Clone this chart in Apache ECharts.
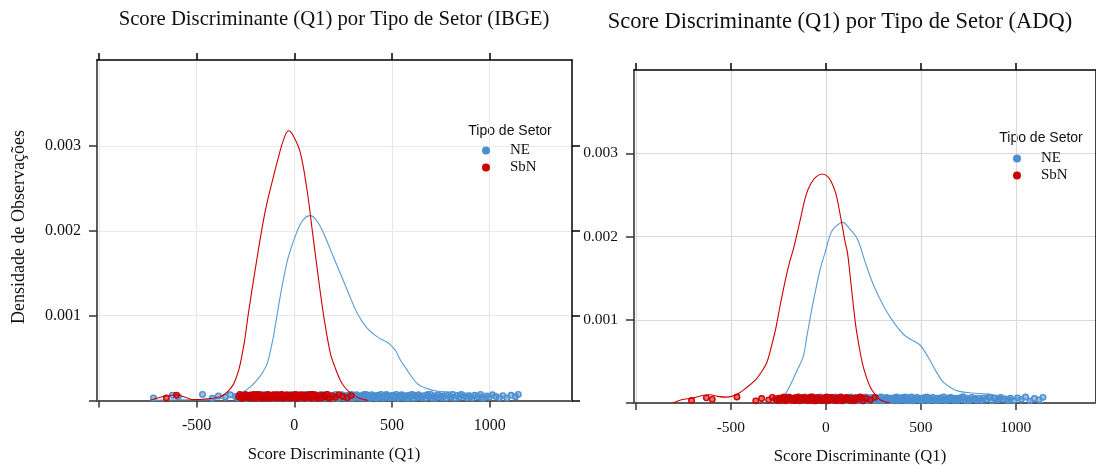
<!DOCTYPE html>
<html>
<head>
<meta charset="utf-8">
<script src="https://cdn.jsdelivr.net/npm/echarts@6/dist/echarts.min.js"></script>
<style>
  html, body { margin: 0; padding: 0; background: #ffffff; }
  #chart { width: 1096px; height: 465px; }
</style>
</head>
<body>
<div id="chart"></div>
<script>
// Kernel density curves: [score, density in units of 0.001]
const neIbgeDensity = [
  [-740, 0.002], [-600, 0.008], [-450, 0.01], [-380, 0.02], [-320, 0.045], [-276, 0.08],
  [-225, 0.16], [-184, 0.26], [-160, 0.34], [-138, 0.44], [-110, 0.72], [-87, 1.03],
  [-60, 1.38], [-30, 1.7], [15, 2.0], [45, 2.13], [82, 2.18], [115, 2.12], [150, 1.97],
  [190, 1.75], [235, 1.5], [280, 1.25], [322, 1.03], [370, 0.86], [425, 0.75], [465, 0.7],
  [491, 0.66], [520, 0.58], [542, 0.48], [580, 0.35], [629, 0.2], [680, 0.14], [732, 0.11],
  [800, 0.1], [865, 0.09], [930, 0.08], [988, 0.07], [1050, 0.055], [1121, 0.03], [1146, 0.01]
];
const sbnIbgeDensity = [
  [-737, 0.004], [-690, 0.035], [-650, 0.057], [-600, 0.065], [-548, 0.03], [-517, 0.01],
  [-445, 0.02], [-379, 0.045], [-343, 0.1], [-312, 0.19], [-290, 0.32], [-276, 0.44],
  [-255, 0.7], [-235, 1.03], [-200, 1.55], [-160, 2.1], [-138, 2.35], [-107, 2.64],
  [-87, 2.82], [-56, 3.07], [-30, 3.18], [-5, 3.12], [31, 2.92], [67, 2.45], [92, 2.0],
  [120, 1.5], [148, 1.03], [184, 0.56], [210, 0.38], [235, 0.24], [260, 0.15], [287, 0.09],
  [330, 0.03], [379, 0.0]
];
const neAdqDensity = [
  [-260, 0.0], [-223, 0.07], [-182, 0.24], [-150, 0.4], [-120, 0.55], [-100, 0.8],
  [-78, 1.08], [-50, 1.4], [-26, 1.64], [-5, 1.8], [26, 2.04], [47, 2.11], [88, 2.17],
  [130, 2.08], [166, 1.97], [203, 1.72], [250, 1.42], [307, 1.15], [360, 0.96], [411, 0.82],
  [450, 0.76], [494, 0.7], [520, 0.62], [546, 0.52], [580, 0.38], [618, 0.25], [660, 0.18],
  [702, 0.14], [770, 0.12], [842, 0.11], [910, 0.09], [982, 0.07], [1030, 0.05],
  [1066, 0.04], [1110, 0.02], [1143, 0.0]
];
const sbnAdqDensity = [
  [-805, 0.0], [-760, 0.04], [-700, 0.06], [-650, 0.09], [-613, 0.1], [-570, 0.08],
  [-525, 0.07], [-473, 0.1], [-420, 0.18], [-369, 0.28], [-340, 0.37], [-312, 0.48],
  [-290, 0.65], [-265, 0.88], [-240, 1.18], [-213, 1.48], [-190, 1.7], [-172, 1.84],
  [-150, 2.05], [-130, 2.25], [-104, 2.5], [-78, 2.64], [-50, 2.72], [-20, 2.75],
  [10, 2.72], [30, 2.65], [52, 2.52], [78, 2.23], [100, 1.95], [114, 1.8], [130, 1.48],
  [156, 0.95], [175, 0.68], [192, 0.48], [212, 0.32], [234, 0.19], [260, 0.1], [286, 0.04],
  [338, 0.0]
];

// Observed scores drawn as the rug along the baseline
const neIbgeScores = [
  -721, -624, -594, -470, -420, -389, -353, -328, -302, -291, -283, -276, -266, -259, -252,
  -245, -236, -229, -223, -214, -208, -199, -193, -186, -177, -171, -163, -158, -149, -141,
  -136, -128, -120, -114, -107, -99, -93, -85, -79, -72, -64, -58, -51, -43, -37, -30, -22,
  -17, -9, -2, 5, 11, 19, 26, 31, 39, 46, 53, 60, 66, 74, 81, 87, 95, 102, 108, 116, 123,
  129, 137, 144, 150, 158, 165, 171, 179, 186, 193, 200, 207, 213, 221, 228, 234, 242, 249,
  256, 263, 270, 276, 284, 291, 297, 305, 312, 318, 326, 333, 340, 347, 354, 360, 368, 375,
  381, 389, 396, 403, 410, 417, 423, 431, 438, 444, 452, 459, 466, 473, 480, 486, 494, 501,
  507, 515, 522, 529, 536, 543, 549, 557, 564, 572, 580, 587, 595, 603, 611, 619, 628, 636,
  644, 653, 662, 670, 679, 689, 697, 707, 716, 726, 735, 746, 755, 766, 777, 787, 799, 810,
  822, 833, 846, 857, 871, 884, 896, 911, 924, 939, 953, 968, 984, 998, 1014, 1031, 1049,
  1067, 1088, 1109, 1131, 1146,
  -247, -218, -181, -153, -124, -88, -61, -33, -4, 22, 49, 77, 104, 133, 161, 188, 217, 245,
  272, 301, 329, 357, 385, 413, 441, 469, 497, 526, 553, 583, 614, 648, 683, 721, 761, 804,
  851, 903, 958
];
const sbnIbgeScores = [
  -655, -603, -285, -279, -271, -265, -258, -251, -246, -238, -232, -225, -219, -212, -206,
  -199, -193, -186, -180, -174, -167, -161, -154, -148, -141, -135, -129, -122, -116, -109,
  -103, -97, -90, -84, -77, -71, -65, -58, -52, -45, -39, -33, -26, -20, -13, -7, -1, 6, 12,
  19, 25, 31, 38, 44, 51, 57, 64, 70, 77, 84, 91, 98, 106, 113, 121, 130, 139, 148, 158,
  169, 181, 195, 211, 228, 248, 270, 291,
  -262, -241, -215, -189, -164, -138, -112, -87, -62, -36, -10, 15, 41, 67, 93, 118, 144, 174
];
const neAdqScores = [
  -231, -219, -206, -197, -186, -178, -169, -160, -153, -145, -137, -130, -122, -115, -108,
  -100, -93, -86, -78, -71, -64, -57, -49, -42, -35, -28, -21, -13, -6, 1, 8, 15, 23, 30, 37,
  44, 51, 59, 66, 73, 80, 87, 95, 102, 109, 116, 124, 131, 138, 145, 153, 160, 167, 174, 182,
  189, 196, 203, 211, 218, 225, 232, 240, 247, 254, 261, 269, 276, 283, 291, 298, 305, 312,
  320, 327, 334, 342, 349, 356, 363, 371, 378, 385, 393, 400, 407, 414, 422, 429, 436, 444,
  451, 458, 466, 473, 480, 488, 495, 502, 510, 517, 525, 532, 540, 548, 555, 563, 571, 579,
  587, 595, 604, 612, 621, 629, 638, 647, 656, 665, 675, 684, 694, 704, 714, 724, 735, 746,
  757, 768, 780, 792, 805, 818, 831, 845, 859, 874, 889, 904, 920, 937, 954, 972, 990, 1009,
  1029, 1051, 1074, 1098, 1122, 1143,
  264, 287, 316, 338, 367, 389, 418, 440, 469, 491, 521, 544, 575, 600, 633, 660, 690, 719,
  751, 786, 824, 866, 912, 963
];
const sbnAdqScores = [
  -707, -629, -598, -468, -369, -338, -301, -282, -265, -256, -248, -241, -234, -227, -220,
  -213, -206, -199, -192, -186, -179, -172, -165, -158, -152, -145, -138, -131, -124, -118,
  -111, -104, -97, -91, -84, -77, -70, -64, -57, -50, -43, -37, -30, -23, -16, -10, -3, 4,
  11, 17, 24, 31, 38, 44, 51, 58, 65, 72, 79, 86, 94, 101, 109, 117, 126, 135, 145, 156,
  168, 181, 196, 213, 234, 258,
  -244, -217, -189, -162, -135, -108, -80, -53, -26, 0, 27, 54, 82, 113, 150, 190
];

// Axis ticks and labels (density axis in units of 0.001)
const xTickValues = [-1000, -500, 0, 500, 1000];
const xLabelValues = [-500, 0, 500, 1000];
const yTickValues = [0, 1, 2, 3];
const yLabelValues = [1, 2, 3];

const groups = ['NE', 'SbN'];
const panelTitles = [
  'Score Discriminante (Q1) por Tipo de Setor (IBGE)',
  'Score Discriminante (Q1) por Tipo de Setor (ADQ)'
];
const xTitle = 'Score Discriminante (Q1)';
const yTitle = 'Densidade de Observações';
const legendTitle = 'Tipo de Setor';

// ---- drawing ----
const BLUE = '#4b8fd1';
const BLUE_FILL = 'rgba(75,143,209,0.55)';
const BLUE_LINE = '#5b9ad6';
const RED = '#cc0000';
const RED_FILL = 'rgba(204,0,0,0.55)';
const SERIF = '"Liberation Serif", "Times New Roman", serif';
const SANS = '"Liberation Sans", Arial, sans-serif';
// small vertical spread so overlapping rug marks stay visible
const RUG_SPREAD = [0.030, 0.062, 0.044, 0.072, 0.026, 0.054, 0.038, 0.068, 0.048, 0.033, 0.058];

const panels = [
  { left: 97, top: 60, width: 475, height: 340.5, xMin: -1010, xMax: 1421, yMax: 4.015,
    gridColor: '#e9e9e9', tickFont: 16,
    ne: { dens: neIbgeDensity, rug: neIbgeScores }, sbn: { dens: sbnIbgeDensity, rug: sbnIbgeScores },
    legend: { left: 477, top: 138 }, legendTitle: [510, 131],
    title: [334, 20, 20.7], xTitle: [334, 455] },
  { left: 634, top: 70, width: 468, height: 333, xMin: -1010, xMax: 1422, yMax: 4.0,
    gridColor: '#d9d9d9', tickFont: 15.5,
    ne: { dens: neAdqDensity, rug: neAdqScores }, sbn: { dens: sbnAdqDensity, rug: sbnAdqScores },
    legend: { left: 1008, top: 146 }, legendTitle: [1041, 138],
    title: [840, 22, 22.5], xTitle: [860, 457] }
];

const grid = [], xAxis = [], yAxis = [], series = [], legend = [], graphic = [];

panels.forEach((p, i) => {
  grid.push({ left: p.left, top: p.top, width: p.width, height: p.height, containLabel: false });

  xAxis.push({
    type: 'value', gridIndex: i, position: 'bottom', min: p.xMin, max: p.xMax,
    axisLine: { show: true, onZero: false, lineStyle: { color: '#5c5c5c', width: 2 } },
    axisTick: { show: true, customValues: xTickValues, length: 7, lineStyle: { color: '#333', width: 1.5 } },
    axisLabel: { customValues: xLabelValues, margin: 17, fontFamily: SERIF, fontSize: p.tickFont, color: '#111',
                 formatter: v => String(v) },
    splitLine: { show: true, lineStyle: { color: p.gridColor, width: 1.2 } }
  });
  xAxis.push({
    type: 'value', gridIndex: i, position: 'top', min: p.xMin, max: p.xMax,
    axisLine: { show: true, onZero: false, lineStyle: { color: '#000', width: 1.5 } },
    axisTick: { show: true, customValues: xTickValues, length: 7, lineStyle: { color: '#000', width: 1.5 } },
    axisLabel: { show: false }, splitLine: { show: false }
  });
  yAxis.push({
    type: 'value', gridIndex: i, position: 'left', min: 0, max: p.yMax,
    axisLine: { show: true, onZero: false, lineStyle: { color: '#5c5c5c', width: 2 } },
    axisTick: { show: true, customValues: yTickValues, length: 8, lineStyle: { color: '#333', width: 1.5 } },
    axisLabel: { customValues: yLabelValues, margin: 16, fontFamily: SERIF, fontSize: p.tickFont, color: '#111',
                 formatter: v => (v / 1000).toFixed(3) },
    splitLine: { show: true, lineStyle: { color: p.gridColor, width: 1.2 } }
  });
  yAxis.push({
    type: 'value', gridIndex: i, position: 'right', min: 0, max: p.yMax,
    axisLine: { show: true, onZero: false, lineStyle: { color: '#000', width: 1.5 } },
    axisTick: { show: true, customValues: yTickValues, length: 8, lineStyle: { color: '#000', width: 1.5 } },
    axisLabel: { show: false }, splitLine: { show: false }
  });

  const xi = i * 2, yi = i * 2;
  const rug = (name, scores, color, fill, z) => ({
    name, type: 'scatter', xAxisIndex: xi, yAxisIndex: yi, z,
    data: scores.map((s, k) => [s, RUG_SPREAD[k % RUG_SPREAD.length]]),
    symbol: 'circle', symbolSize: 5.5,
    itemStyle: { color: fill, borderColor: color, borderWidth: 1.4, opacity: 1 },
    silent: true
  });
  const curve = (name, dens, color, z) => ({
    name, type: 'line', xAxisIndex: xi, yAxisIndex: yi, z,
    data: dens, smooth: 0.35, showSymbol: false, symbol: 'none',
    lineStyle: { color, width: 1.1 }, itemStyle: { color }, silent: true
  });
  series.push(rug('NE', p.ne.rug, BLUE, BLUE_FILL, 2));
  series.push(curve('NE', p.ne.dens, BLUE_LINE, 3));
  series.push(rug('SbN', p.sbn.rug, RED, RED_FILL, 4));
  series.push(curve('SbN', p.sbn.dens, RED, 5));

  legend.push({
    orient: 'vertical', left: p.legend.left, top: p.legend.top,
    itemWidth: 38, itemHeight: 8, itemGap: 2, icon: 'circle', selectedMode: false,
    textStyle: { fontFamily: SERIF, fontSize: 15, color: '#111' },
    data: [
      { name: groups[0], itemStyle: { color: BLUE, borderWidth: 0 } },
      { name: groups[1], itemStyle: { color: RED, borderWidth: 0 } }
    ]
  });

  graphic.push({ type: 'text', x: p.legendTitle[0], y: p.legendTitle[1], silent: true,
    style: { text: legendTitle, font: '14px ' + SANS, fill: '#111', textAlign: 'center', textVerticalAlign: 'middle' } });
  graphic.push({ type: 'text', x: p.title[0], y: p.title[1], silent: true,
    style: { text: panelTitles[i], font: p.title[2] + 'px ' + SERIF, fill: '#111', textAlign: 'center', textVerticalAlign: 'middle' } });
  graphic.push({ type: 'text', x: p.xTitle[0], y: p.xTitle[1], silent: true,
    style: { text: xTitle, font: '16.7px ' + SERIF, fill: '#111', textAlign: 'center', textVerticalAlign: 'middle' } });
});

graphic.push({ type: 'text', x: 19, y: 227, rotation: Math.PI / 2, silent: true,
  style: { text: yTitle, font: '18px ' + SERIF, fill: '#111', textAlign: 'center', textVerticalAlign: 'middle' } });

const chart = echarts.init(document.getElementById('chart'), null, { renderer: 'canvas' });
chart.setOption({
  animation: false,
  backgroundColor: '#ffffff',
  grid, xAxis, yAxis, series, legend, graphic,
  tooltip: { show: false }
});
</script>
</body>
</html>
